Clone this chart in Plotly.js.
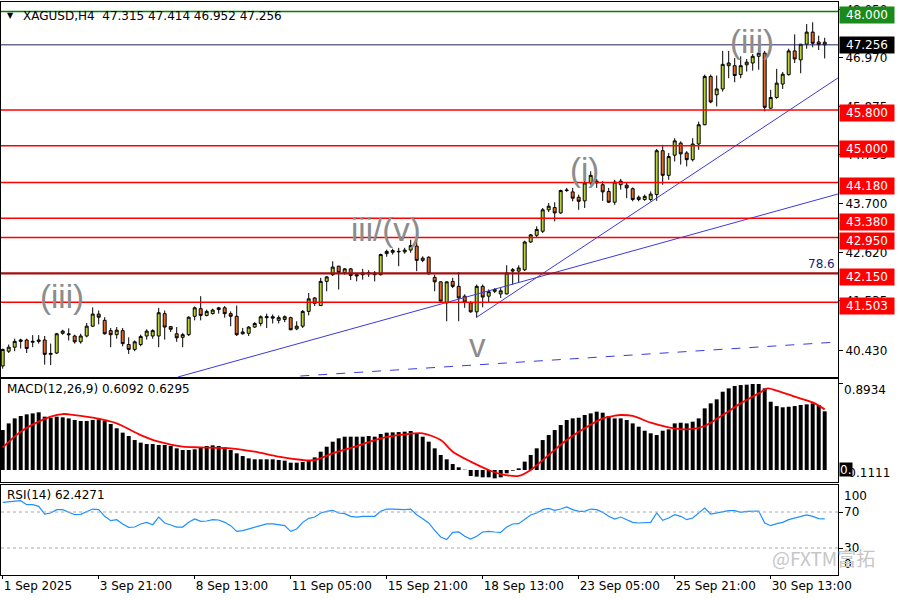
<!DOCTYPE html>
<html><head><meta charset="utf-8">
<script src="https://cdn.plot.ly/plotly-3.0.1.min.js"></script>
<style>html,body{margin:0;padding:0;background:#fff}#chart{width:900px;height:600px}</style>
</head><body><div id="chart"></div>
<script>
// ---------------- DATA ----------------
const symbolName = "XAGUSD,H4";
const openP = [40.08,40.41,40.50,40.63,40.66,40.61,40.63,40.66,40.34,40.37,40.81,40.80,40.75,40.62,40.75,40.97,41.24,41.10,40.87,40.78,
40.87,40.56,40.45,40.56,40.75,40.75,40.75,41.25,40.96,40.80,40.72,40.78,41.19,41.36,41.21,41.25,41.34,41.38,41.25,41.19,
40.80,40.81,40.95,41.03,41.16,41.18,41.10,41.12,41.16,40.91,40.97,41.30,41.60,41.43,41.97,42.12,42.31,42.17,42.25,42.09,
42.12,42.14,42.12,42.12,42.59,42.62,42.63,42.63,42.67,42.76,42.44,42.51,42.06,41.96,41.49,41.97,41.86,41.64,41.49,41.29,
41.86,41.64,41.75,41.69,41.69,42.20,42.20,42.23,42.85,43.00,43.09,43.57,43.62,43.50,44.00,43.97,43.85,43.77,44.17,44.21,
44.13,43.98,43.74,44.13,44.12,44.04,43.80,43.80,43.80,43.91,44.89,44.34,44.79,45.06,44.84,44.69,45.04,45.47,46.55,46.14,
46.27,46.79,46.79,46.59,46.81,46.85,47.00,47.07,45.84,46.08,46.38,46.59,47.12,46.92,47.27,47.54,47.32,47.315];
const highP = [40.47,40.56,40.69,40.69,40.69,40.77,40.77,40.75,40.58,40.82,40.89,40.92,40.78,40.80,41.04,41.39,41.32,41.17,40.93,40.95,
40.93,40.72,40.65,40.78,40.90,40.90,41.38,41.32,40.97,40.95,40.82,41.19,41.41,41.64,41.34,41.36,41.40,41.42,41.30,41.43,
40.93,40.97,41.06,41.21,41.25,41.23,41.21,41.21,41.18,41.08,41.33,41.71,41.62,42.05,42.09,42.42,42.32,42.27,42.27,42.16,
42.25,42.22,42.20,42.59,42.68,42.70,42.72,42.72,42.90,42.92,42.53,42.53,42.12,41.97,41.97,42.05,42.18,41.68,41.53,41.90,
41.90,41.79,41.82,41.82,42.33,42.27,42.33,42.88,43.03,43.20,43.61,43.72,43.74,44.02,44.06,44.06,43.91,44.22,44.43,44.26,
44.21,44.06,44.24,44.26,44.19,44.07,43.89,43.91,43.98,44.93,45.02,44.84,45.17,45.10,44.88,45.17,45.54,46.59,46.59,46.57,
47.12,47.12,46.96,47.00,46.94,47.05,47.18,47.12,46.25,46.72,46.65,47.17,47.49,47.27,47.72,47.76,47.46,47.414];
const lowP = [40.02,40.37,40.41,40.47,40.37,40.50,40.58,40.11,40.10,40.35,40.78,40.65,40.58,40.58,40.72,40.95,41.01,40.78,40.50,40.69,
40.52,40.35,40.41,40.52,40.67,40.69,40.50,40.67,40.84,40.62,40.50,40.75,41.10,41.10,41.19,41.23,41.25,41.16,40.97,40.75,
40.78,40.75,40.93,40.97,40.93,41.03,41.03,41.06,40.88,40.88,40.93,41.21,41.42,41.42,41.75,42.09,41.79,42.12,42.00,41.97,
42.01,42.07,41.97,42.10,42.52,42.57,42.31,42.59,42.61,42.20,42.40,42.12,41.75,41.49,41.08,41.82,41.08,41.38,41.27,41.16,
41.39,41.51,41.71,41.60,41.68,41.90,41.94,42.20,42.83,42.96,43.05,43.52,43.31,43.48,43.97,43.76,43.57,43.61,44.13,44.06,
43.77,43.72,43.68,44.02,43.83,43.76,43.76,43.77,43.76,43.77,44.13,44.24,44.65,44.58,44.54,44.65,44.91,45.46,45.95,45.88,
46.21,46.51,46.42,46.51,46.66,46.68,46.70,45.77,45.83,46.05,46.27,46.57,46.85,46.62,47.17,47.20,47.14,46.952];
const closeP = [40.45,40.50,40.63,40.66,40.47,40.63,40.66,40.34,40.36,40.80,40.86,40.78,40.62,40.75,40.97,41.24,41.17,40.80,40.78,40.88,
40.58,40.45,40.62,40.74,40.86,40.87,41.27,40.95,40.90,40.71,40.78,41.17,41.38,41.21,41.30,41.33,41.38,41.25,41.19,40.78,
40.84,40.95,41.03,41.18,41.18,41.15,41.16,41.18,40.89,40.97,41.30,41.58,41.48,41.97,42.07,42.29,42.17,42.25,42.10,42.12,
42.16,42.16,42.16,42.57,42.64,42.66,42.64,42.67,42.77,42.44,42.49,42.14,41.96,41.53,41.96,41.86,41.60,41.51,41.29,41.86,
41.62,41.74,41.79,41.76,42.16,42.23,42.27,42.85,43.01,43.13,43.57,43.65,43.50,44.00,44.01,43.83,43.76,44.17,44.34,44.17,
43.97,43.74,44.19,44.21,44.06,43.80,43.85,43.87,43.92,44.89,44.34,44.76,45.11,44.82,44.69,45.04,45.47,46.55,45.98,46.27,
46.82,46.85,46.57,46.79,46.87,47.00,47.07,45.86,46.08,46.40,46.60,47.12,46.94,47.27,47.54,47.29,47.26,47.256];

const macdHist = [0.415,0.484,0.536,0.561,0.578,0.588,0.599,0.554,0.543,0.554,0.547,0.536,0.519,0.509,0.509,0.519,0.526,0.512,0.478,0.433,
0.388,0.353,0.311,0.284,0.270,0.270,0.260,0.260,0.249,0.225,0.208,0.208,0.215,0.235,0.249,0.256,0.249,0.235,0.208,0.173,
0.145,0.121,0.111,0.111,0.111,0.111,0.104,0.097,0.076,0.076,0.083,0.104,0.131,0.190,0.242,0.294,0.329,0.346,0.346,0.346,
0.346,0.353,0.346,0.374,0.388,0.391,0.394,0.398,0.405,0.381,0.346,0.294,0.225,0.156,0.111,0.062,0.028,0.003,-0.062,-0.069,
-0.076,-0.076,-0.087,-0.076,-0.035,-0.007,0.017,0.087,0.156,0.225,0.311,0.363,0.415,0.467,0.519,0.536,0.543,0.571,0.588,0.606,
0.595,0.561,0.536,0.536,0.519,0.484,0.450,0.408,0.381,0.363,0.408,0.422,0.484,0.491,0.484,0.502,0.536,0.640,0.692,0.734,
0.813,0.848,0.872,0.882,0.886,0.8934,0.893,0.848,0.709,0.664,0.651,0.657,0.664,0.675,0.682,0.692,0.675,0.6092];
const signalIdx = [0,3,6,8,10,11,15,19,23,26,30,33,38,42,46,50,52,55,59,63,67,70,73,75,78,81,83,86,88,91,94,97,100,102,103,105,108,111,114,117,120,123,126,127.5,129,132,135,137];
const signalVal = [0.235,0.398,0.502,0.554,0.581,0.578,0.543,0.484,0.363,0.294,0.242,0.235,0.225,0.190,0.138,0.104,0.104,0.173,0.249,0.329,0.370,0.381,0.311,0.190,0.087,0.000,-0.042,-0.062,0.000,0.156,0.311,0.433,0.536,0.564,0.571,0.561,0.491,0.443,0.422,0.457,0.571,0.692,0.796,0.848,0.824,0.761,0.702,0.6295];

const rsiVals = [80.7,81.1,82.2,82.6,78.1,78.1,76.3,67.8,68.9,72.6,72.6,70.0,67.0,67.4,70.4,73.3,72.6,65.2,60.4,61.5,
56.7,53.0,53.3,56.7,58.5,55.9,64.4,57.8,55.6,53.3,53.3,58.5,62.2,59.6,60.0,61.5,61.1,58.5,54.8,48.5,
49.3,51.1,52.6,55.2,56.7,56.7,55.6,54.8,48.5,51.1,58.5,63.0,64.4,68.9,70.7,71.9,68.9,68.1,65.2,64.4,
65.2,65.2,65.2,70.7,73.3,73.3,72.6,72.6,73.3,67.0,62.6,57.8,49.6,42.2,39.3,47.4,47.8,43.0,40.0,43.0,
47.8,48.5,47.8,47.4,53.3,56.7,57.0,61.5,66.7,68.9,72.6,74.1,71.9,73.3,75.6,72.6,70.7,70.7,73.3,72.6,
69.6,65.2,62.2,64.4,61.5,58.5,57.8,57.8,58.5,68.9,60.7,63.3,67.0,65.2,61.5,63.3,68.9,74.4,67.8,68.9,
70.0,71.5,71.5,69.6,70.7,70.7,71.1,57.8,54.8,57.0,58.5,61.5,63.0,64.4,66.7,65.2,62.6,62.4271];
const rsiLevels = [70, 30];

const timeTickIdx = [0,16,32,48,64,80,96,112,128];
const timeTickText = ["1 Sep 2025","3 Sep 21:00","8 Sep 13:00","11 Sep 05:00","15 Sep 21:00","18 Sep 13:00","23 Sep 05:00","25 Sep 21:00","30 Sep 13:00"];
const priceTickVals = [48.05,46.97,45.875,44.795,43.70,42.62,41.535,40.43];

const redLevels = [45.8,45.0,44.18,43.38,42.95,42.15,41.503];
const targetLevel = 48.0;
const bidLevel = 47.256;
const fibLevel = 42.15;
const fibText = "78.6";

const trendAIdx = [29.2,139.2], trendAPrice = [39.834,43.923];
const trendBIdx = [79,139.2], trendBPrice = [41.17,46.515];
const trendCIdx = [49.6,139.2], trendCPrice = [39.856,40.616];

const waveText = ["(iii)","iii/(v)","v","(i)","(iii)"];
const waveIdx = [9.8,63.9,79.2,97.0,124.9];
const wavePrice = [41.63,43.12,40.53,44.46,47.34];

// ---------------- CHART ----------------
const n = closeP.length;
const barIndex = closeP.map((_, i) => i);
const xr = [-0.283, 139.217];
const FONT = 'DejaVu Sans';

const traces = [
  {type:'candlestick', x:barIndex, open:openP, high:highP, low:lowP, close:closeP, xaxis:'x', yaxis:'y',
   increasing:{line:{color:'#000',width:1}, fillcolor:'#b8cf3e'},
   decreasing:{line:{color:'#000',width:1}, fillcolor:'#de6b2b'},
   whiskerwidth:0, hoverinfo:'skip'},
  {type:'scatter', mode:'lines', x:trendAIdx, y:trendAPrice, xaxis:'x', yaxis:'y', line:{color:'#3a3ae0',width:1}, hoverinfo:'skip'},
  {type:'scatter', mode:'lines', x:trendBIdx, y:trendBPrice, xaxis:'x', yaxis:'y', line:{color:'#3a3ae0',width:1}, hoverinfo:'skip'},
  {type:'scatter', mode:'lines', x:trendCIdx, y:trendCPrice, xaxis:'x', yaxis:'y', line:{color:'#3a3ae0',width:1,dash:'dash'}, hoverinfo:'skip'},
  {type:'bar', x:barIndex, y:macdHist, xaxis:'x2', yaxis:'y2', width:0.66, marker:{color:'#000', line:{width:0}}, hoverinfo:'skip'},
  {type:'scatter', mode:'lines', x:signalIdx, y:signalVal, xaxis:'x2', yaxis:'y2', line:{color:'#ff0000',width:1.8,shape:'spline',smoothing:0.8}, hoverinfo:'skip'},
  {type:'scatter', mode:'lines', x:barIndex, y:rsiVals, xaxis:'x3', yaxis:'y3', line:{color:'#1e90ff',width:1.2}, hoverinfo:'skip'}
];

const shapes = [];
redLevels.forEach(v => shapes.push({type:'line', xref:'x domain', x0:0, x1:1, yref:'y', y0:v, y1:v,
  line:{color: v === fibLevel ? '#a01010' : '#ff0000', width: v === fibLevel ? 2.4 : 1.6}}));
shapes.push({type:'line', xref:'x domain', x0:0, x1:1, yref:'y', y0:targetLevel, y1:targetLevel, line:{color:'#008000',width:1.6}});
shapes.push({type:'line', xref:'x domain', x0:0, x1:1, yref:'y', y0:bidLevel, y1:bidLevel, line:{color:'#22225a',width:1}});
rsiLevels.forEach(v => shapes.push({type:'line', xref:'x3 domain', x0:0, x1:1, yref:'y3', y0:v, y1:v, line:{color:'#a8a8a8',width:1,dash:'dot'}}));

const ann = [];
const boxAnn = (v, bg, shift) => ({xref:'paper', x:1, xanchor:'left', xshift:1, yref:'y', y:v, yanchor:'middle', yshift:shift,
  text:v.toFixed(3), showarrow:false, bgcolor:bg, width:52, height:14, borderpad:1, align:'center',
  font:{family:FONT, size:12, color:'#fff'}});
redLevels.forEach(v => ann.push(boxAnn(v, '#ff0000', -3.5)));
ann.push(boxAnn(targetLevel, '#1a8a1a', -3));
ann.push(boxAnn(bidLevel, '#000000', 0));

// header
ann.push({xref:'paper', x:0, xanchor:'left', xshift:4, yref:'paper', y:1, yanchor:'top', yshift:-7, text:'▼', showarrow:false, font:{family:FONT,size:8,color:'#000'}});
ann.push({xref:'paper', x:0, xanchor:'left', xshift:20, yref:'paper', y:1, yanchor:'top', yshift:-5,
  text: symbolName + '\u00a0\u00a0' + [openP[n-1],highP[n-1],lowP[n-1],closeP[n-1]].map(v=>v.toFixed(3)).join(' '),
  showarrow:false, font:{family:FONT,size:12,color:'#000'}});

// wave labels
waveText.forEach((t,i) => ann.push({xref:'x', yref:'y', x:waveIdx[i], y:wavePrice[i], text:t, showarrow:false,
  xanchor:'center', yanchor:'middle', font:{family:'Liberation Sans', size:33, color:'#8c8c8c'}}));

// fib label
ann.push({xref:'paper', x:1, xanchor:'right', xshift:-1, yref:'y', y:fibLevel, yanchor:'bottom', yshift:0, text:fibText,
  showarrow:false, font:{family:FONT,size:12,color:'#1a1a80'}});

// MACD labels
const macdMax = Math.max(...macdHist), macdMin = -0.1111;
ann.push({xref:'paper', x:0, xanchor:'left', xshift:4, yref:'paper', y:(575-389)/573, yanchor:'middle',
  text:'MACD(12,26,9) ' + macdHist[n-1].toFixed(4) + ' ' + signalVal[signalVal.length-1].toFixed(4), showarrow:false, font:{family:FONT,size:12,color:'#000'}});
ann.push({xref:'paper', x:1, xanchor:'left', xshift:4, yref:'y2', y:macdMax, yanchor:'top', yshift:3, text:macdMax.toFixed(4), showarrow:false, font:{family:FONT,size:12,color:'#000'}});
ann.push({xref:'paper', x:1, xanchor:'left', xshift:4, yref:'y2', y:macdMin, yanchor:'bottom', yshift:-1, text:macdMin.toFixed(4), showarrow:false, font:{family:FONT,size:12,color:'#000'}});
ann.push({xref:'paper', x:1, xanchor:'left', xshift:1, yref:'y2', y:0, yanchor:'middle', text:'0.00', showarrow:false, bgcolor:'#000', borderpad:0, font:{family:FONT,size:12,color:'#fff'}, width:12, height:13, align:'left'});

// RSI labels
ann.push({xref:'paper', x:0, xanchor:'left', xshift:4, yref:'paper', y:(575-495)/573, yanchor:'middle',
  text:'RSI(14) ' + rsiVals[n-1].toFixed(4), showarrow:false, font:{family:FONT,size:12,color:'#000'}});
[[100,'top',-2],[70,'middle',0],[30,'middle',0],[0,'bottom',2]].forEach(([v,a,s]) =>
  ann.push({xref:'paper', x:1, xanchor:'left', xshift:4, yref:'y3', y:v, yanchor:a, yshift:s, text:String(v), showarrow:false, font:{family:FONT,size:12,color:'#000'}}));

// watermark
ann.push({xref:'paper', x:(770-1)/837, xanchor:'left', yref:'paper', y:(575-557)/573, yanchor:'middle',
  text:'@FXTM富拓', showarrow:false, font:{family:'Noto Sans CJK SC', size:19, color:'#c6c6c6'}});

const axBase = {showgrid:false, zeroline:false, showline:true, mirror:true, linecolor:'#000', linewidth:1, fixedrange:true};
const layout = {
  width:900, height:600,
  margin:{l:1, r:62, t:2, b:25},
  paper_bgcolor:'#fff', plot_bgcolor:'#fff',
  showlegend:false, dragmode:false,
  font:{family:FONT, size:12, color:'#000'},
  boxgap:0.3,
  xaxis: Object.assign({}, axBase, {domain:[0,1], anchor:'y', range:xr, showticklabels:false, ticks:'', rangeslider:{visible:false}}),
  xaxis2: Object.assign({}, axBase, {domain:[0,1], anchor:'y2', range:xr, showticklabels:false, ticks:''}),
  xaxis3: Object.assign({}, axBase, {domain:[0,1], anchor:'y3', range:xr, tickmode:'array', tickvals:timeTickIdx, ticktext:timeTickText,
    ticks:'outside', ticklen:3, tickcolor:'#000', ticklabelposition:'outside right', tickfont:{family:FONT,size:12,color:'#000'}}),
  yaxis: Object.assign({}, axBase, {domain:[(575-377)/573, 1], anchor:'x', side:'right', range:[39.834, 48.213],
    tickmode:'array', tickvals:priceTickVals, ticktext:priceTickVals.map(v=>v.toFixed(3)), ticks:'outside', ticklen:4, tickcolor:'#000',
    tickfont:{family:FONT,size:12,color:'#000'}}),
  yaxis2: Object.assign({}, axBase, {domain:[(575-482)/573, (575-379)/573], anchor:'x2', side:'right', range:[-0.1246, 0.945],
    showticklabels:false, ticks:'outside', ticklen:4, tickvals:[macdMax], tickcolor:'#000'}),
  yaxis3: Object.assign({}, axBase, {domain:[0, (575-485)/573], anchor:'x3', side:'right', range:[0,100],
    showticklabels:false, ticks:'outside', ticklen:4, tickvals:rsiLevels, tickcolor:'#000'}),
  shapes: shapes,
  annotations: ann
};

Plotly.newPlot('chart', traces, layout, {staticPlot:true, displayModeBar:false});
</script>
</body></html>
